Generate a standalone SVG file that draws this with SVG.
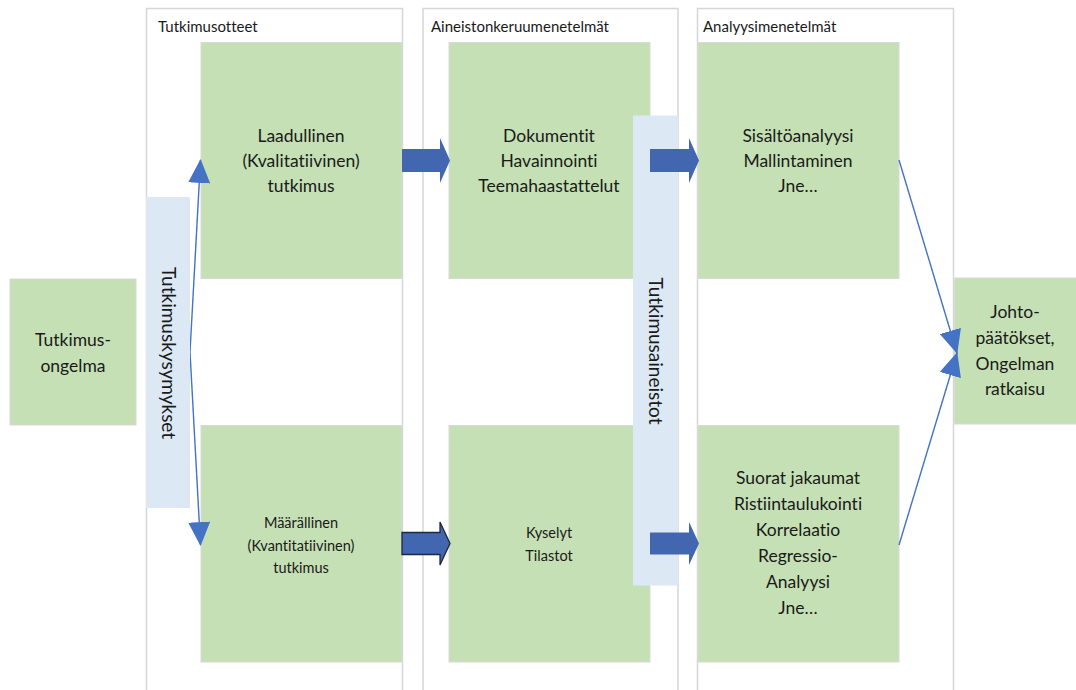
<svg xmlns="http://www.w3.org/2000/svg" width="1076" height="690" viewBox="0 0 1076 690">
<style>
.panel{fill:#ffffff;stroke:#d6d6d6;stroke-width:1.5}
.box{fill:#c5e0b4;stroke:#d9d9d9;stroke-width:1}
.bar{fill:#dce9f5}
text{font-variant-ligatures:none;font-feature-settings:"liga" 0}
.t{font-family:Lato,"Liberation Sans",sans-serif;fill:#1a1a1a;text-anchor:middle}
.h{font-family:Lato,"Liberation Sans",sans-serif;fill:#1a1a1a;font-size:15px}
.l{font-size:17.5px}
.v{font-size:19px}
.s{font-size:14.5px}
.thin{stroke:#4472c4;stroke-width:1.4;fill:none}
.blk{fill:#4266b0}
</style>
<defs>
<marker id="ah" markerUnits="userSpaceOnUse" markerWidth="24" markerHeight="22" refX="23" refY="11" orient="auto" viewBox="0 0 24 22">
<path d="M0,0 L24,11 L0,22 z" fill="#4472c4"/>
</marker>
</defs>
<g id="panels">
<rect class="panel" x="146.5" y="8.5" width="256" height="700"/>
<rect class="panel" x="423" y="8.5" width="255" height="700"/>
<rect class="panel" x="697.5" y="8.5" width="256" height="700"/>
<text class="h" x="158" y="32">Tutkimusotteet</text>
<text class="h" x="431" y="32">Aineistonkeruumenetelmät</text>
<text class="h" x="703" y="32">Analyysimenetelmät</text>
</g>
<g id="n-ongelma">
<rect class="box" x="10" y="279" width="126" height="146"/>
<text class="t l" x="73" y="346">Tutkimus-</text>
<text class="t l" x="73" y="372">ongelma</text>
</g>
<g id="n-laadullinen">
<rect class="box" x="201" y="42.5" width="201" height="236"/>
<text class="t l" x="301" y="142">Laadullinen</text>
<text class="t l" x="301" y="167">(Kvalitatiivinen)</text>
<text class="t l" x="301" y="192">tutkimus</text>
</g>
<g id="n-maarallinen">
<rect class="box" x="201" y="425.5" width="201" height="236.5"/>
<text class="t s" x="301" y="528">Määrällinen</text>
<text class="t s" x="301" y="551">(Kvantitatiivinen)</text>
<text class="t s" x="301" y="573">tutkimus</text>
</g>
<g id="n-dokumentit">
<rect class="box" x="449" y="42.5" width="201" height="236"/>
<text class="t l" x="549" y="142">Dokumentit</text>
<text class="t l" x="549" y="167">Havainnointi</text>
<text class="t l" x="549" y="192">Teemahaastattelut</text>
</g>
<g id="n-kyselyt">
<rect class="box" x="449" y="425.5" width="201" height="236.5"/>
<text class="t s" x="549" y="538">Kyselyt</text>
<text class="t s" x="549" y="561">Tilastot</text>
</g>
<g id="n-sisalto">
<rect class="box" x="698" y="42.5" width="201" height="236"/>
<text class="t l" x="798" y="142">Sisältöanalyysi</text>
<text class="t l" x="798" y="167">Mallintaminen</text>
<text class="t l" x="798" y="192">Jne…</text>
</g>
<g id="n-suorat">
<rect class="box" x="698" y="425.5" width="201" height="236.5"/>
<text class="t l" x="798" y="484">Suorat jakaumat</text>
<text class="t l" x="798" y="510">Ristiintaulukointi</text>
<text class="t l" x="798" y="536">Korrelaatio</text>
<text class="t l" x="798" y="562">Regressio-</text>
<text class="t l" x="798" y="588">Analyysi</text>
<text class="t l" x="798" y="614">Jne…</text>
</g>
<g id="n-johto">
<rect class="box" x="954.5" y="278" width="122" height="146"/>
<text class="t l" x="1015" y="318">Johto-</text>
<text class="t l" x="1015" y="344">päätökset,</text>
<text class="t l" x="1015" y="370">Ongelman</text>
<text class="t l" x="1015" y="395">ratkaisu</text>
</g>
<g id="connectors">
<path class="thin" d="M190,352 L200.5,160" marker-end="url(#ah)"/>
<path class="thin" d="M190,352 L200.5,545" marker-end="url(#ah)"/>
<path class="blk" d="M402,149 L440,149 L440,138 L450,160.5 L440,183 L440,172 L402,172 z"/>
<path class="blk" d="M402,532.5 L440,532.5 L440,522 L450,543.5 L440,565 L440,554.5 L402,554.5 z" stroke="#1c2740" stroke-width="1.3"/>
<path class="thin" d="M899,160 L957,353" marker-end="url(#ah)"/>
<path class="thin" d="M899,545 L957,353" marker-end="url(#ah)"/>
</g>
<g id="n-kysymykset">
<rect class="bar" x="146" y="197" width="44" height="311"/>
<text class="t v" transform="translate(162,353) rotate(90)">Tutkimuskysymykset</text>
</g>
<g id="n-aineistot">
<rect class="bar" x="633" y="115.5" width="45" height="470"/>
<text class="t v" transform="translate(649,351) rotate(90)">Tutkimusaineistot</text>
</g>
<g id="block-arrows-2">
<path class="blk" d="M650,149 L689,149 L689,138 L699,160.5 L689,183 L689,172 L650,172 z"/>
<path class="blk" d="M650,532.5 L689,532.5 L689,522 L699,543.5 L689,565 L689,554.5 L650,554.5 z"/>
</g>
</svg>
